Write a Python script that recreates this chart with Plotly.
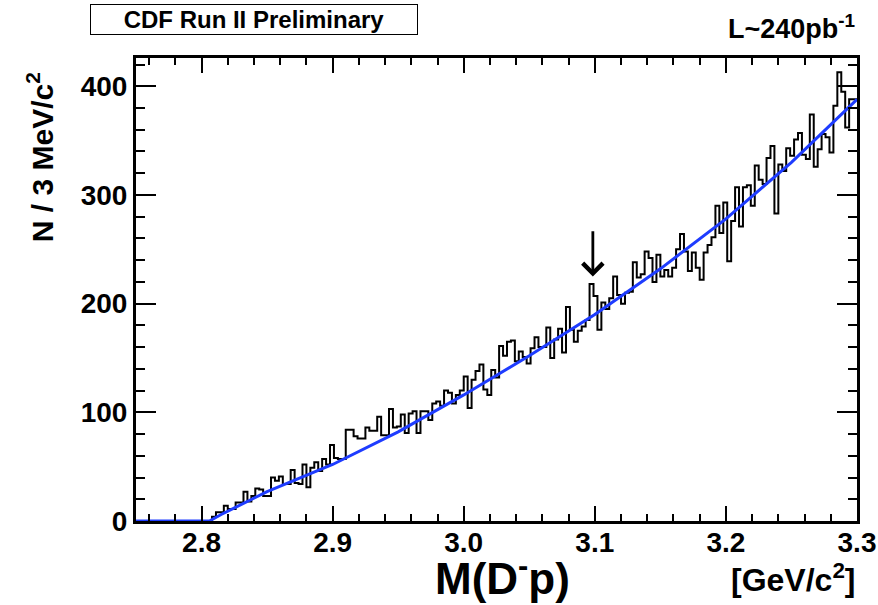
import plotly.graph_objects as go

# ---- data ----
bin_lo = 2.751
bin_width = 0.003
counts = [
    0, 0, 0, 0, 0, 0, 0, 0, 0, 0, 0, 0, 0, 0, 0, 0, 0, 0, 0,
    4, 8, 8, 14, 11, 11, 17, 17, 27, 18,
    23, 30, 29, 23, 23, 40, 37, 41, 34, 34,
    47, 35, 34, 52, 31, 49, 54, 46, 57, 52,
    70, 58, 57, 57, 84, 84, 78, 76, 76, 86,
    83, 83, 96, 79, 79, 103, 86, 87, 98, 81,
    99, 101, 81, 101, 101, 93, 108, 110, 106, 120,
    118, 108, 116, 120, 133, 104, 130, 138, 144, 121,
    116, 139, 132, 161, 152, 165, 166, 147, 156, 151,
    145, 159, 169, 160, 160, 178, 150, 167, 177, 155,
    197, 176, 165, 175, 179, 185, 218, 207, 176, 201,
    195, 205, 225, 208, 200, 210, 211, 238, 224, 227,
    248, 242, 220, 245, 225, 231, 225, 233, 250, 264,
    248, 230, 247, 233, 222, 247, 254, 261, 290, 265,
    293, 239, 276, 307, 271, 307, 309, 290, 327, 314,
    310, 334, 345, 283, 328, 322, 343, 336, 351, 357,
    337, 333, 374, 326, 342, 356, 353, 339, 382, 413,
    395, 362, 388, 388,
]
fit_x = [2.75, 2.806, 2.815, 2.83, 2.85, 2.9, 2.95, 3.0, 3.05, 3.1, 3.15, 3.2, 3.25, 3.3]
fit_y = [0, 0, 6, 15, 27, 52, 82, 116, 152, 190, 232, 278, 330, 388]
arrow_mass = 3.0985
arrow_tip, arrow_tail = 225, 268
x_ticks = [2.8, 2.9, 3.0, 3.1, 3.2, 3.3]
x_tick_text = ["2.8", "2.9", "3.0", "3.1", "3.2", "3.3"]
y_ticks = [0, 100, 200, 300, 400]

edges = [bin_lo + bin_width * i for i in range(len(counts) + 1)]
hist_y = counts + [counts[-1]]

FONT = "Liberation Sans"

fig = go.Figure()
fig.add_trace(go.Scatter(x=edges, y=hist_y, mode="lines", line_shape="hv",
                         line=dict(color="black", width=2), hoverinfo="skip",
                         showlegend=False))
fig.add_trace(go.Scatter(x=fit_x, y=fit_y, mode="lines",
                         line=dict(color="rgb(30,60,255)", width=3),
                         showlegend=False))

fig.add_annotation(x=arrow_mass, y=arrow_tip, ax=arrow_mass, ay=arrow_tail,
                   xref="x", yref="y", axref="x", ayref="y", text="",
                   showarrow=True, arrowhead=4, arrowsize=1.4, arrowwidth=2.8,
                   arrowcolor="black", standoff=0)

def txt(text, x, y, size, xanchor="center", **kw):
    fig.add_annotation(text=text, x=x, y=y, xref="paper", yref="paper",
                       showarrow=False, xanchor=xanchor, yanchor="middle",
                       font=dict(family=FONT, size=size, color="black", weight="bold"),
                       **kw)

txt("CDF Run II Preliminary", 0.1637, 1.083, 24, width=326, height=29,
    bordercolor="black", borderwidth=1, borderpad=0)
txt("L~240pb<sup>-1</sup>", 1.0, 1.067, 27, xanchor="right")
txt("N / 3 MeV/c<sup>2</sup>", -0.133, 0.786, 30, textangle=-90)
txt("M(D<sup>-</sup>p)", 0.509, -0.117, 44)
txt("[GeV/c<sup>2</sup>]", 1.0, -0.124, 32, xanchor="right")

fig.update_layout(
    width=878, height=605,
    margin=dict(l=136, r=21, t=58, b=84),
    paper_bgcolor="white", plot_bgcolor="white",
    font=dict(family=FONT, size=28, color="black", weight="bold"),
    xaxis=dict(range=[2.75, 3.3], tickvals=x_ticks, ticktext=x_tick_text,
               ticks="inside", ticklen=15, tickwidth=1.5, tickcolor="black",
               minor=dict(dtick=0.02, tick0=2.8, ticks="inside", ticklen=7,
                          tickwidth=1.5, tickcolor="black"),
               showline=True, linewidth=3, linecolor="black", mirror="ticks",
               showgrid=False, zeroline=False, ticklabelstandoff=-6,
               automargin=False,
               tickfont=dict(family=FONT, size=28, weight="bold")),
    yaxis=dict(range=[0, 426], tickvals=y_ticks,
               ticks="inside", ticklen=20, tickwidth=1.5, tickcolor="black",
               minor=dict(dtick=20, tick0=0, ticks="inside", ticklen=9,
                          tickwidth=1.5, tickcolor="black"),
               showline=True, linewidth=3, linecolor="black", mirror="ticks",
               showgrid=False, zeroline=False, ticklabelstandoff=0,
               automargin=False,
               tickfont=dict(family=FONT, size=28, weight="bold")),
)

fig.write_html("out.html")
